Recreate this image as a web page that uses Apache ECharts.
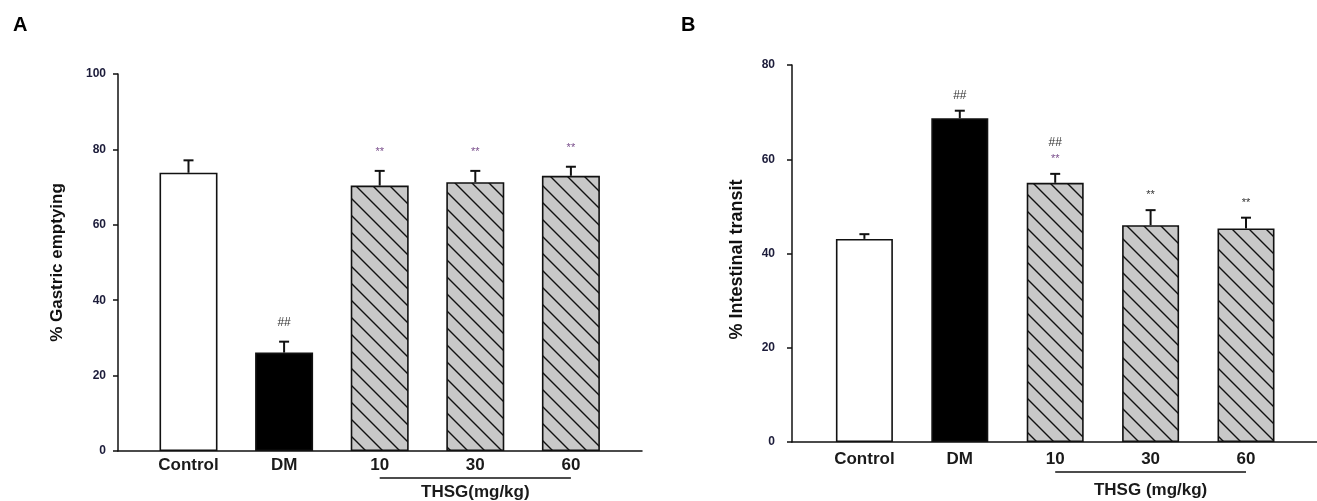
<!DOCTYPE html>
<html><head><meta charset="utf-8">
<script src="https://cdn.jsdelivr.net/npm/echarts@6/dist/echarts.min.js"></script>
<style>html,body{margin:0;padding:0;background:#fff}#c{width:1317px;height:501px}</style>
</head><body><div id="c"></div>
<script>
// ---- data ----
const categories = ['Control', 'DM', '10', '30', '60'];
const gastricMean = [73.8, 26.1, 70.4, 71.3, 73.0];
const gastricErr = [3.3, 2.9, 3.9, 3.0, 2.4];
const gastricMarks = [[], ['##'], ['**'], ['**'], ['**']];
const transitMean = [43.1, 68.7, 55.0, 46.0, 45.3];
const transitErr = [1.0, 1.6, 1.9, 3.2, 2.3];
const transitMarks = [[], ['##'], ['##', '**'], ['**'], ['**']];
const gastricAxis = { min: 0, max: 100, interval: 20 };
const transitAxis = { min: 0, max: 80, interval: 20 };
const groupLabelA = 'THSG(mg/kg)';
const groupLabelB = 'THSG (mg/kg)';

// ---- styles ----
const FONT = 'Liberation Sans, Arial, sans-serif';
const T = 17;
const hatch = (() => {
  const c = document.createElement('canvas'); c.width = T; c.height = T;
  const g = c.getContext('2d');
  g.fillStyle = '#c8c8c8'; g.fillRect(0, 0, T, T);
  g.strokeStyle = '#111'; g.lineWidth = 1.4;
  g.beginPath();
  g.moveTo(-2, -2); g.lineTo(T + 2, T + 2);
  g.moveTo(-2, T - 2); g.lineTo(2, T + 2);
  g.moveTo(T - 2, -2); g.lineTo(T + 2, 2);
  g.stroke();
  return c;
})();
const fills = ['#ffffff', '#000000', { image: hatch, repeat: 'repeat' }, { image: hatch, repeat: 'repeat' }, { image: hatch, repeat: 'repeat' }];

const panels = [
  { mean: gastricMean, err: gastricErr, marks: gastricMarks, axis: gastricAxis, name: '% Gastric emptying',
    frame: { left: 118, top: 74, width: 524, height: 377 }, data: { left: 140.7, top: 74, width: 478, height: 377 },
    barWidth: 58, nameGap: 52, nameSize: 17, namePad: [0, 0, 0, 0], labelMargin: 12, catMargin: 6, gap: 19, lineGap: 16,
    starColor: ['#7a4f8c', '#7a4f8c', '#7a4f8c'], group: groupLabelA, bracketDy: 27, groupDy: 41 },
  { mean: transitMean, err: transitErr, marks: transitMarks, axis: transitAxis, name: '% Intestinal transit',
    frame: { left: 792, top: 65, width: 525, height: 377 }, data: { left: 816.7, top: 65, width: 477, height: 377 },
    barWidth: 57, nameGap: 46, nameSize: 18, namePad: [0, 12, 0, 0], labelMargin: 17, catMargin: 9, gap: 15, lineGap: 16,
    starColor: ['#7a4f8c', '#333', '#333'], group: groupLabelB, bracketDy: 30, groupDy: 48 }
];

const grid = [], xAxis = [], yAxis = [], series = [];
panels.forEach((p, k) => {
  const gf = grid.length; grid.push(p.frame);
  const gd = grid.length; grid.push(p.data);
  xAxis.push({ gridIndex: gf, type: 'value', min: 0, max: 1, axisLine: { lineStyle: { color: '#111', width: 1.5 } },
    axisTick: { show: false }, axisLabel: { show: false }, splitLine: { show: false } });
  xAxis.push({ gridIndex: gd, type: 'category', data: categories, axisLine: { show: false }, axisTick: { show: false },
    axisLabel: { margin: p.catMargin, fontFamily: FONT, fontSize: 17, fontWeight: 'bold', color: '#1a1a1a' }, splitLine: { show: false } });
  yAxis.push({ gridIndex: gf, type: 'value', min: p.axis.min, max: p.axis.max, interval: p.axis.interval,
    name: p.name, nameLocation: 'middle', nameGap: p.nameGap,
    nameTextStyle: { fontFamily: FONT, fontSize: p.nameSize, fontWeight: 'bold', color: '#111', padding: p.namePad },
    axisLine: { show: true, lineStyle: { color: '#111', width: 1.5 } },
    axisTick: { show: true, length: 5, lineStyle: { color: '#111', width: 1.5 } },
    axisLabel: { margin: p.labelMargin, fontFamily: FONT, fontSize: 12, fontWeight: 'bold', color: '#1c1c3a' },
    splitLine: { show: false } });
  yAxis.push({ gridIndex: gd, type: 'value', min: p.axis.min, max: p.axis.max, show: false });
  const xi = xAxis.length - 1, yi = yAxis.length - 1;
  series.push({ type: 'bar', xAxisIndex: xi, yAxisIndex: yi, barWidth: p.barWidth,
    data: p.mean.map((v, i) => ({ value: v, itemStyle: { color: fills[i], borderColor: '#111', borderWidth: 1.6 } })),
    silent: true, animation: false });
  series.push({ type: 'custom', xAxisIndex: xi, yAxisIndex: yi, z: 5, animation: false, silent: true,
    data: p.mean.map((v, i) => [i, v, p.err[i]]),
    renderItem: (params, api) => {
      const i = api.value(0), m = api.value(1), e = api.value(2);
      const p0 = api.coord([i, m]), p1 = api.coord([i, m + e]);
      const ch = [
        { type: 'line', shape: { x1: p0[0], y1: p0[1], x2: p1[0], y2: p1[1] }, style: { stroke: '#111', lineWidth: 2 } },
        { type: 'line', shape: { x1: p1[0] - 5, y1: p1[1], x2: p1[0] + 5, y2: p1[1] }, style: { stroke: '#111', lineWidth: 2 } }
      ];
      const mk = p.marks[i];
      mk.slice().reverse().forEach((t, j) => {
        const isStar = t === '**';
        ch.push({ type: 'text', style: { text: t, x: p1[0], y: p1[1] - p.gap - j * p.lineGap, align: 'center', verticalAlign: 'middle',
          font: (isStar ? '11px ' : '12px ') + FONT, fill: isStar ? p.starColor[i - 2] : '#333' } });
      });
      return { type: 'group', children: ch };
    } });
});

const chart = echarts.init(document.getElementById('c'), null, { renderer: 'canvas' });
chart.setOption({
  animation: false, backgroundColor: '#fff',
  title: [
    { text: 'A', left: 8, top: 10, textStyle: { fontFamily: FONT, fontSize: 20, fontWeight: 'bold', color: '#000' } },
    { text: 'B', left: 676, top: 10, textStyle: { fontFamily: FONT, fontSize: 20, fontWeight: 'bold', color: '#000' } }
  ],
  grid, xAxis, yAxis, series
});

// group bracket under the THSG doses, positioned through the axes
const graphic = [];
panels.forEach((p, k) => {
  const xi = k * 2 + 1, yi = k * 2 + 1;
  const xa = chart.convertToPixel({ xAxisIndex: xi }, 2);
  const xb = chart.convertToPixel({ xAxisIndex: xi }, 4);
  const y0 = chart.convertToPixel({ yAxisIndex: yi }, 0);
  graphic.push({ type: 'line', shape: { x1: xa, y1: y0 + p.bracketDy, x2: xb, y2: y0 + p.bracketDy }, style: { stroke: '#111', lineWidth: 1.6 } });
  graphic.push({ type: 'text', x: (xa + xb) / 2, y: y0 + p.groupDy,
    style: { text: p.group, align: 'center', verticalAlign: 'middle', font: 'bold 17px ' + FONT, fill: '#1a1a1a' } });
});
chart.setOption({ graphic });
</script></body></html>
